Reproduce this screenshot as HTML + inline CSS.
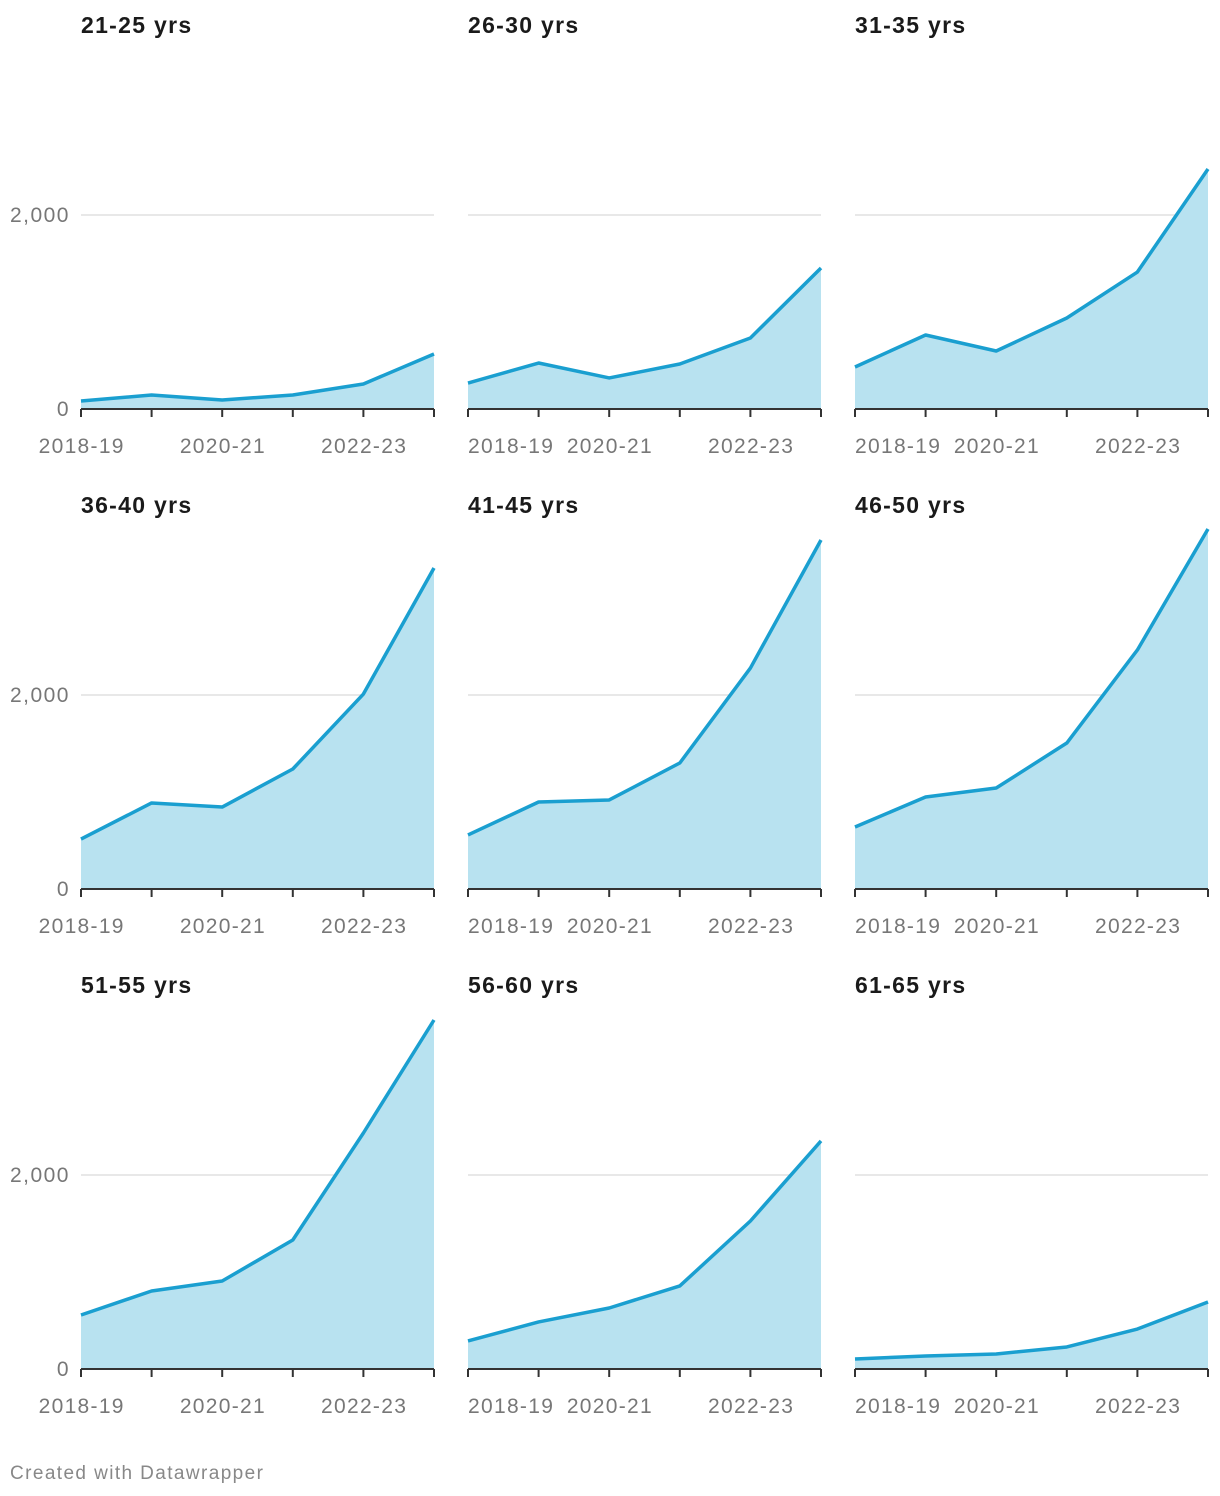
<!DOCTYPE html>
<html><head><meta charset="utf-8">
<style>
body{margin:0;background:#fff;font-family:"Liberation Sans",Arial,sans-serif;}
svg{display:block}
</style></head>
<body>
<svg id="c" width="1220" height="1496"></svg>
<script>
const panels = ["21-25 yrs","26-30 yrs","31-35 yrs","36-40 yrs","41-45 yrs","46-50 yrs","51-55 yrs","56-60 yrs","61-65 yrs"];
const years = ["2018-19","2019-20","2020-21","2021-22","2022-23","2023-24"];
const s2125 = [82,144,93,144,258,567];
const s2630 = [268,474,320,464,732,1454];
const s3135 = [433,763,598,938,1412,2474];
const s3640 = [515,887,845,1237,2010,3309];
const s4145 = [557,897,918,1299,2278,3598];
const s4650 = [639,948,1041,1505,2464,3711];
const s5155 = [557,804,907,1330,2433,3598];
const s5660 = [289,485,629,856,1526,2351];
const s6165 = [103,134,155,227,412,691];
const series = [s2125,s2630,s3135,s3640,s4145,s4650,s5155,s5660,s6165];
const yTicks = [0,2000];
const yTickLabels = ["0","2,000"];
const xLabelIdx = [0,2,4];

const NS="http://www.w3.org/2000/svg";
const svg=document.getElementById('c');
function mk(t,a,p){const e=document.createElementNS(NS,t);for(const k in a)e.setAttribute(k,a[k]);(p||svg).appendChild(e);return e;}
const colX=[81,468,855], W=353, zeros=[409,889,1369], K=194/2000;
series.forEach((d,i)=>{
  const col=i%3,row=Math.floor(i/3);
  const x0=colX[col], y0=zeros[row];
  const g=mk('g',{});
  
  
  const xs=j=>x0+j*W/(years.length-1);
  const ys=v=>y0-v*K;
  const t=mk('text',{x:x0,y:y0-376,'font-size':23,'font-weight':'bold',fill:'#1a1a1a','letter-spacing':1.3},g);
  t.textContent=panels[i];
  
  
  yTicks.forEach((v,k)=>{
    if(v>0){const gl=mk('line',{x1:x0,x2:x0+W,y1:ys(v),y2:ys(v),stroke:'#e0e0e0','stroke-width':1.5},g);
      
      }
    if(col===0){const lt=mk('text',{x:70,y:ys(v)+7,'font-size':21,fill:'#777','text-anchor':'end','letter-spacing':1.5},g);
      lt.textContent=yTickLabels[k];
      
      }
  });
  let pts=d.map((v,j)=>xs(j)+','+ys(v)).join(' ');
  const area=mk('polygon',{points:xs(0)+','+y0+' '+pts+' '+xs(d.length-1)+','+y0,fill:'#b8e2f0'},g);
  
  
  const ln=mk('polyline',{points:pts,fill:'none',stroke:'#1a9fd0','stroke-width':3.5,'stroke-linejoin':'round'},g);
  
  
  const ax=mk('line',{x1:x0,x2:x0+W,y1:y0,y2:y0,stroke:'#333','stroke-width':2},g);
  
  
  years.forEach((y,j)=>{const tk=mk('line',{x1:xs(j),x2:xs(j),y1:y0,y2:y0+8,stroke:'#333','stroke-width':2},g);
    
    });
  xLabelIdx.forEach(j=>{
    let anchor='middle',x=xs(j)+0.7;
    if(j===0&&col>0){anchor='start';x=x0;}
    const xl=mk('text',{x:x,y:y0+44,'font-size':21,fill:'#777','text-anchor':anchor,'letter-spacing':1.3},g);
    xl.textContent=years[j];
    
    
  });
});
const f=mk('text',{x:10,y:1479,'font-size':19,fill:'#888','letter-spacing':1.4});
f.textContent='Created with Datawrapper';


</script>
</body></html>
